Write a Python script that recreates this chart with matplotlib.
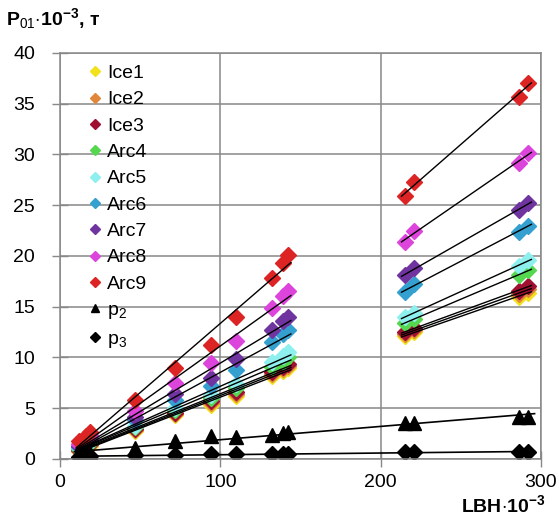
import numpy as np
import matplotlib.pyplot as plt
from matplotlib.lines import Line2D

plt.rcParams['font.family'] = ['Liberation Sans', 'DejaVu Sans']
plt.rcParams['mathtext.fontset'] = 'custom'
plt.rcParams['mathtext.rm'] = 'Liberation Sans'
plt.rcParams['mathtext.it'] = 'Liberation Sans'
plt.rcParams['mathtext.bf'] = 'Liberation Sans:bold'

# LBH*10^-3 values (same for every series)
lbh = [12, 16, 19, 47, 72, 94, 110, 132, 139, 142, 215, 221, 286, 292]

ice1 = [0.8, 1.0, 1.3, 2.8, 4.3, 5.3, 6.2, 8.2, 8.7, 9.0, 12.1, 12.5, 16.0, 16.4]
ice2 = [0.8, 1.1, 1.4, 2.9, 4.4, 5.5, 6.4, 8.4, 8.9, 9.2, 12.3, 12.7, 16.3, 16.7]
ice3 = [0.9, 1.2, 1.5, 3.0, 4.5, 5.7, 6.6, 8.6, 9.1, 9.4, 12.5, 12.9, 16.6, 17.0]
arc4 = [1.0, 1.3, 1.6, 3.2, 4.8, 6.0, 7.0, 9.1, 9.6, 10.0, 13.4, 13.8, 18.1, 18.6]
arc5 = [1.1, 1.4, 1.7, 3.3, 5.0, 6.3, 7.4, 9.6, 10.1, 10.5, 14.0, 14.4, 19.0, 19.6]
arc6 = [1.2, 1.5, 1.9, 3.8, 5.8, 7.2, 8.8, 11.5, 12.3, 12.7, 16.5, 17.2, 22.4, 23.0]
arc7 = [1.3, 1.7, 2.1, 4.1, 6.4, 8.0, 9.9, 12.7, 13.6, 14.0, 18.1, 18.8, 24.5, 25.2]
arc8 = [1.5, 2.0, 2.4, 4.7, 7.5, 9.5, 11.6, 14.9, 16.1, 16.6, 21.4, 22.5, 29.2, 30.1]
arc9 = [1.8, 2.3, 2.7, 5.8, 9.0, 11.2, 14.0, 17.8, 19.3, 20.1, 25.9, 27.3, 35.7, 37.0]
p2 = [0.4, 0.5, 0.6, 1.1, 1.8, 2.3, 2.2, 2.4, 2.6, 2.7, 3.5, 3.5, 4.1, 4.1]
p3 = [0.2, 0.25, 0.3, 0.35, 0.4, 0.45, 0.45, 0.45, 0.5, 0.5, 0.65, 0.65, 0.7, 0.7]

names = ['Ice1', 'Ice2', 'Ice3', 'Arc4', 'Arc5', 'Arc6', 'Arc7', 'Arc8', 'Arc9']
series = [ice1, ice2, ice3, arc4, arc5, arc6, arc7, arc8, arc9]
colors = ['#f2e21c', '#e0873a', '#a01030', '#55d84f', '#8ef0ee',
          '#33a0d0', '#7034a0', '#dc44dc', '#dc2424']

x = np.array(lbh, dtype=float)
fig = plt.figure(figsize=(5.59, 5.18), dpi=100)
ax = fig.add_axes([0.1073, 0.1139, 0.8605, 0.7838])

groups = [slice(0, 10), slice(10, 14)]
for name, ys, c in zip(names, series, colors):
    y = np.array(ys)
    ax.plot(x, y, ls='none', marker='D', ms=8, color=c, mec=c, zorder=2)
    for g in groups:
        k, b = np.polyfit(x[g], y[g], 1)
        xx = np.array([x[g].min() - 2, x[g].max() + 2])
        ax.plot(xx, k * xx + b, color='black', lw=1, zorder=3)

for ys, m, ms in [(p2, '^', 10), (p3, 'D', 8)]:
    y = np.array(ys)
    ax.plot(x, y, ls='none', marker=m, ms=ms, color='black', zorder=2)
    k, b = np.polyfit(x, y, 1)
    xx = np.array([x.min() - 3, x.max() + 4])
    ax.plot(xx, k * xx + b, color='black', lw=1.2, zorder=3)

ax.set_xlim(0, 300)
ax.set_ylim(0, 40)
ax.set_xticks([0, 100, 200, 300])
ax.set_yticks(np.arange(0, 41, 5))
ax.grid(True, color='#888888', lw=1.1, zorder=0)
ax.set_axisbelow(True)
for s in ax.spines.values():
    s.set_color('#888888')
    s.set_linewidth(1.1)
ax.tick_params(direction='inout', length=12, width=1, color='#888888',
               labelsize=14)
ax.tick_params(axis='y', pad=12)
ax.tick_params(axis='x', pad=5)

handles = [Line2D([], [], ls='none', marker='D', ms=5, color=c) for c in colors]
handles += [Line2D([], [], ls='none', marker='^', ms=6, color='black'),
            Line2D([], [], ls='none', marker='D', ms=5, color='black')]
labels = names + ['p$_2$', 'p$_3$']
ax.legend(handles, labels, loc='upper left', bbox_to_anchor=(0.058, 0.972),
          frameon=False, fontsize=14, handlelength=0.7, handletextpad=0.3,
          labelspacing=0.45, borderpad=0, borderaxespad=0)

fig.text(0.01, 0.965, r'P$_{\mathrm{01}}$$\mathbf{\cdot 10^{-3}}$, т',
         fontsize=14, fontweight='bold', ha='left', va='center')
fig.text(0.975, 0.025, r'LBH$\mathbf{\cdot 10^{-3}}$',
         fontsize=14, fontweight='bold', ha='right', va='center')

plt.savefig('out.png', dpi=100)
plt.close()
